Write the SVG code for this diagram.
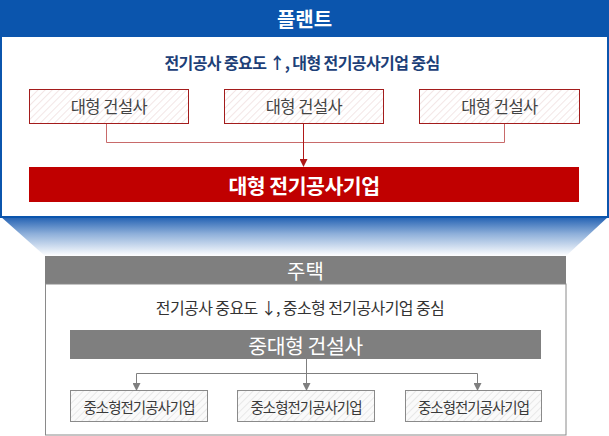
<svg xmlns="http://www.w3.org/2000/svg" width="609" height="436" viewBox="0 0 609 436">
<defs>
<pattern id="hatchR" width="5" height="5" patternUnits="userSpaceOnUse" patternTransform="rotate(45)">
<rect width="5" height="5" fill="#ffffff"/>
<line x1="0" y1="0" x2="0" y2="5" stroke="#f3e6e6" stroke-width="2"/>
</pattern>
<pattern id="hatchG" width="5" height="5" patternUnits="userSpaceOnUse" patternTransform="rotate(45)">
<rect width="5" height="5" fill="#fafafa"/>
<line x1="0" y1="0" x2="0" y2="5" stroke="#e8e8e8" stroke-width="2"/>
</pattern>
<linearGradient id="fade" x1="0" y1="0" x2="0" y2="1">
<stop offset="0" stop-color="#1c5cb0"/>
<stop offset="0.45" stop-color="#8fb0da"/>
<stop offset="1" stop-color="#ffffff"/>
</linearGradient>
<marker id="arrR" markerWidth="8" markerHeight="8" refX="7" refY="4" orient="auto" markerUnits="userSpaceOnUse">
<path d="M0,0 L8,4 L0,8 z" fill="#b01818"/>
</marker>
<marker id="arrG" markerWidth="8" markerHeight="8" refX="7" refY="4" orient="auto" markerUnits="userSpaceOnUse">
<path d="M0,0 L8,4 L0,8 z" fill="#7f7f7f"/>
</marker>
</defs>
<style>
text { font-family: "Noto Sans CJK KR", "Noto Sans", sans-serif; text-anchor: middle; dominant-baseline: central; }
.hdr { fill: #ffffff; font-size: 20px; }
.sub { font-size: 16px; letter-spacing: -0.6px; }
.rbox { fill: url(#hatchR); stroke: #a31c1c; stroke-width: 1; }
.gbox { fill: url(#hatchG); stroke: #8a8a8a; stroke-width: 1; }
.rtxt { fill: #444444; font-size: 16.5px; letter-spacing: -0.5px; }
.gtxt { fill: #3a3a3a; font-size: 14.5px; letter-spacing: -1px; }
.bar { fill: #ffffff; font-size: 20.5px; letter-spacing: -0.5px; }
</style>

<polygon points="0,216 609,216 566,256 45,256" fill="url(#fade)"/>

<g id="plant">
<rect x="0" y="0" width="609" height="218" fill="#0b55ad"/>
<rect x="2" y="37" width="605" height="179" fill="#ffffff"/>
<text class="hdr" x="304.5" y="18.5" font-weight="bold">플랜트</text>
<text class="sub" x="302" y="62" fill="#1d3f78" font-weight="bold">전기공사 중요도 ↑, 대형 전기공사기업 중심</text>
</g>

<g id="top-box-1">
<rect class="rbox" x="29.5" y="89.5" width="159" height="34"/>
<text class="rtxt" x="109" y="106">대형 건설사</text>
</g>
<g id="top-box-2">
<rect class="rbox" x="224.5" y="89.5" width="159" height="34"/>
<text class="rtxt" x="304" y="106">대형 건설사</text>
</g>
<g id="top-box-3">
<rect class="rbox" x="419.5" y="89.5" width="160" height="34"/>
<text class="rtxt" x="499.5" y="106">대형 건설사</text>
</g>

<g id="large-electrical">
<rect x="29" y="167" width="550" height="35" fill="#c00000"/>
<text class="bar" x="304" y="184.5" font-weight="bold">대형 전기공사기업</text>
</g>

<g id="housing">
<rect x="45" y="256" width="521" height="28" fill="#7f7f7f"/>
<rect x="45.5" y="284" width="520.5" height="151" fill="#ffffff" stroke="#8a8a8a" stroke-width="1"/>
<text class="hdr" x="305.5" y="270">주택</text>
<text class="sub" x="300" y="307" fill="#333333">전기공사 중요도 ↓, 중소형 전기공사기업 중심</text>
</g>

<g id="mid-large-builders">
<rect x="70" y="330" width="471" height="29" fill="#7f7f7f"/>
<text class="bar" x="305.5" y="344.5">중대형 건설사</text>
</g>

<g id="bottom-box-1">
<rect class="gbox" x="70.5" y="390.5" width="137" height="31"/>
<text class="gtxt" x="139" y="406">중소형전기공사기업</text>
</g>
<g id="bottom-box-2">
<rect class="gbox" x="237.5" y="390.5" width="137" height="31"/>
<text class="gtxt" x="306" y="406">중소형전기공사기업</text>
</g>
<g id="bottom-box-3">
<rect class="gbox" x="405.5" y="390.5" width="136" height="31"/>
<text class="gtxt" x="473.5" y="406">중소형전기공사기업</text>
</g>

<g id="connectors" fill="none">
<path d="M106.5,124 V142.5 H504.5 V124" stroke="#c86a6a" stroke-width="1"/>
<line x1="303.5" y1="124" x2="303.5" y2="166" stroke="#b01818" stroke-width="1" marker-end="url(#arrR)"/>
<line x1="306.5" y1="359" x2="306.5" y2="390" stroke="#7f7f7f" stroke-width="1" marker-end="url(#arrG)"/>
<path d="M136.5,390 V373.5 H477.5 V390" stroke="#7f7f7f" stroke-width="1"/>
<line x1="136.5" y1="374" x2="136.5" y2="390" stroke="#7f7f7f" stroke-width="1" marker-end="url(#arrG)"/>
<line x1="477.5" y1="374" x2="477.5" y2="390" stroke="#7f7f7f" stroke-width="1" marker-end="url(#arrG)"/>
</g>
</svg>
